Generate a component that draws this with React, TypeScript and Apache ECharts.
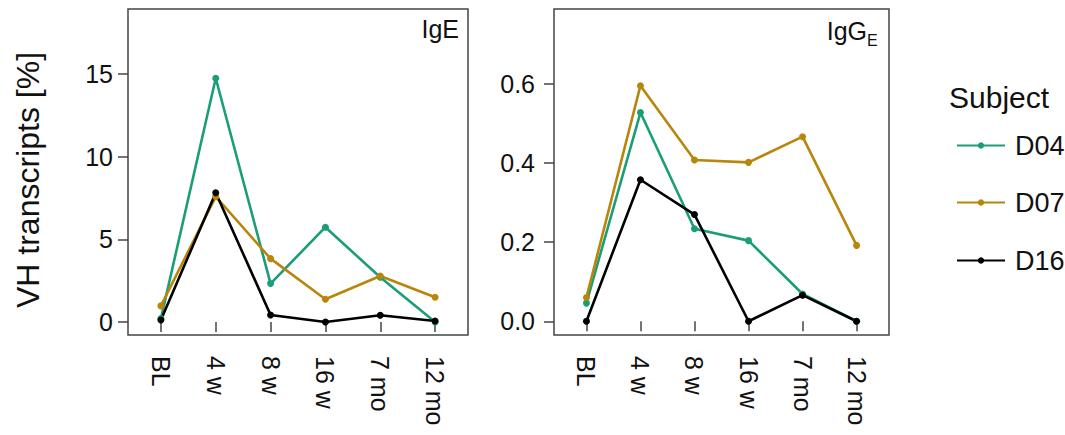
import React, { useEffect, useRef } from "react";
import * as echarts from "echarts";

const categories = ["BL", "4 w", "8 w", "16 w", "7 mo", "12 mo"];
const subjects = ["D04", "D07", "D16"];
const colors = ["#1b9e77", "#b8860b", "#000000"];

const igeD04 = [0.2, 14.74, 2.32, 5.73, 2.7, 0.0];
const igeD07 = [0.97, 7.58, 3.83, 1.37, 2.78, 1.49];
const igeD16 = [0.12, 7.82, 0.42, 0.0, 0.4, 0.06];

const iggD04 = [0.046, 0.528, 0.234, 0.204, 0.069, 0.0];
const iggD07 = [0.06, 0.596, 0.408, 0.402, 0.467, 0.192];
const iggD16 = [0.0, 0.358, 0.27, 0.0, 0.066, 0.0];

const igeTicks = [0, 5, 10, 15];
const iggTicks = [0, 0.2, 0.4, 0.6];

const FONT = "Liberation Sans, Arial, sans-serif";

export default function App() {
  const ref = useRef<HTMLDivElement>(null);
  useEffect(() => {
    if (!ref.current) return;
    document.body.style.margin = "0";
    const chart = echarts.init(ref.current, undefined, { renderer: "svg" });
    const catPos = categories.map((_, i) => i + 1);
    const xAxisBase = (gridIndex: number) => ({
      type: "value",
      gridIndex,
      min: 0.4,
      max: 6.6,
      splitLine: { show: false },
      axisLine: { show: false },
      axisTick: {
        show: true,
        customValues: catPos,
        length: 10,
        lineStyle: { color: "#444", width: 1.5 },
      },
      axisLabel: {
        customValues: catPos,
        rotate: -90,
        margin: 21,
        fontSize: 25,
        color: "#111",
        fontFamily: FONT,
        formatter: (v: number) => categories[Math.round(v) - 1] ?? "",
      },
    });
    const yAxisBase = (gridIndex: number, min: number, max: number, ticks: number[], margin: number, dec: number) => ({
      type: "value",
      gridIndex,
      min,
      max,
      splitLine: { show: false },
      axisLine: { show: false },
      axisTick: {
        show: true,
        customValues: ticks,
        length: 10,
        lineStyle: { color: "#444", width: 1.5 },
      },
      axisLabel: {
        customValues: ticks,
        margin,
        fontSize: 25,
        color: "#111",
        fontFamily: FONT,
        formatter: (v: number) => v.toFixed(dec),
      },
    });
    const mk = (name: string, idx: number, vals: number[], axis: number) => ({
      type: "line",
      name,
      xAxisIndex: axis,
      yAxisIndex: axis,
      data: vals.map((v, i) => [catPos[i], v]),
      symbol: "circle",
      symbolSize: 7,
      color: colors[idx],
      lineStyle: { width: 2.6, color: colors[idx] },
      itemStyle: { color: colors[idx] },
    });
    const legendTops = [127, 184, 242];
    chart.setOption({
      animation: false,
      grid: [
        { left: 128, top: 9, width: 340, height: 326, show: true, borderColor: "#444", borderWidth: 1.5 },
        { left: 554, top: 9, width: 335, height: 326, show: true, borderColor: "#444", borderWidth: 1.5 },
      ],
      xAxis: [xAxisBase(0), xAxisBase(1)],
      yAxis: [
        yAxisBase(0, -0.79, 18.93, igeTicks, 15, 0),
        yAxisBase(1, -0.0347, 0.79, iggTicks, 19, 1),
      ],
      legend: subjects.map((s, i) => ({
        data: [s],
        orient: "vertical",
        left: 951,
        top: legendTops[i],
        itemWidth: 48,
        itemHeight: 8,
        selectedMode: false,
        textStyle: { fontSize: 27, color: "#111", fontFamily: FONT, padding: [0, 0, 0, 5] },
      })),
      series: [
        mk("D04", 0, igeD04, 0),
        mk("D07", 1, igeD07, 0),
        mk("D16", 2, igeD16, 0),
        mk("D04", 0, iggD04, 1),
        mk("D07", 1, iggD07, 1),
        mk("D16", 2, iggD16, 1),
      ],
      graphic: [
        {
          type: "text",
          x: 28,
          y: 180,
          rotation: Math.PI / 2,
          style: {
            text: "VH transcripts [%]",
            fontSize: 32,
            fontFamily: FONT,
            fill: "#111",
            align: "center",
            verticalAlign: "middle",
          },
        },
        {
          type: "text",
          x: 459,
          y: 29,
          style: {
            text: "IgE",
            fontSize: 25,
            fontFamily: FONT,
            fill: "#111",
            align: "right",
            verticalAlign: "middle",
          },
        },
        {
          type: "text",
          x: 867,
          y: 31,
          style: {
            text: "IgG",
            fontSize: 25,
            fontFamily: FONT,
            fill: "#111",
            align: "right",
            verticalAlign: "middle",
          },
        },
        {
          type: "text",
          x: 867,
          y: 40,
          style: {
            text: "E",
            fontSize: 16,
            fontFamily: FONT,
            fill: "#111",
            align: "left",
            verticalAlign: "middle",
          },
        },
        {
          type: "text",
          x: 949,
          y: 97,
          style: {
            text: "Subject",
            fontSize: 30,
            fontFamily: FONT,
            fill: "#111",
            align: "left",
            verticalAlign: "middle",
          },
        },
      ],
    });
    return () => chart.dispose();
  }, []);
  return <div ref={ref} style={{ width: 1065, height: 435 }} />;
}
